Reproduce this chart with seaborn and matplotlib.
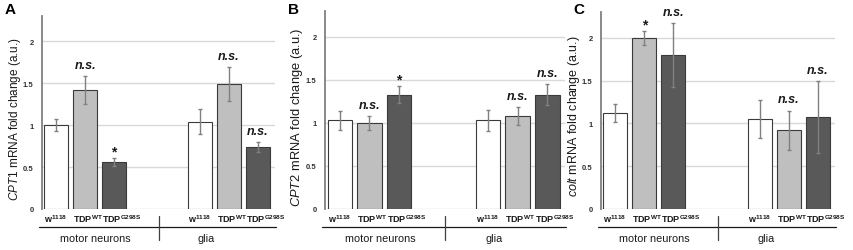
import numpy as np
import pandas as pd
import matplotlib
matplotlib.use("Agg")
import matplotlib.pyplot as plt
import seaborn as sns
from matplotlib.transforms import blended_transform_factory
from matplotlib.lines import Line2D

# ---------------- data ----------------
genotypes = ["w1118", "TDPWT", "TDPG298S"]
genotype_labels = [r"$\mathbf{w^{1118}}$", r"$\mathbf{TDP^{WT}}$", r"$\mathbf{TDP^{G298S}}$"]
regions = ["motor neurons", "glia"]
panel_letters = ["A", "B", "C"]
gene_names = ["CPT1", "CPT2", "colt"]

# order: motor neurons (w1118, TDPWT, TDPG298S), glia (w1118, TDPWT, TDPG298S)
cpt1_mean = [1.00, 1.42, 0.56, 1.04, 1.49, 0.74]
cpt1_err = [0.07, 0.17, 0.05, 0.15, 0.20, 0.06]
cpt1_sig = ["", "n.s.", "*", "", "n.s.", "n.s."]

cpt2_mean = [1.03, 1.00, 1.33, 1.03, 1.08, 1.33]
cpt2_err = [0.11, 0.08, 0.10, 0.12, 0.10, 0.12]
cpt2_sig = ["", "n.s.", "*", "", "n.s.", "n.s."]

colt_mean = [1.12, 2.00, 1.80, 1.05, 0.92, 1.07]
colt_err = [0.11, 0.08, 0.37, 0.22, 0.23, 0.42]
colt_sig = ["", "*", "n.s.", "", "n.s.", "n.s."]

yticks = [0, 0.5, 1, 1.5, 2]
ytick_labels = ["0", "0.5", "1", "1.5", "2"]

panels = [
    (cpt1_mean, cpt1_err, cpt1_sig),
    (cpt2_mean, cpt2_err, cpt2_sig),
    (colt_mean, colt_err, colt_sig),
]

# ---------------- style ----------------
sns.set_theme(style="white")
plt.rcParams["font.family"] = ["Liberation Sans", "DejaVu Sans"]
plt.rcParams["mathtext.fontset"] = "custom"
plt.rcParams["mathtext.rm"] = "Liberation Sans"
plt.rcParams["mathtext.it"] = "Liberation Sans:italic"
plt.rcParams["mathtext.bf"] = "Liberation Sans:bold"

palette = {"w1118": "#ffffff", "TDPWT": "#bfbfbf", "TDPG298S": "#595959"}
edge = "#3a3a3a"
grey_axis = "#808080"
grid_col = "#d9d9d9"
text_col = "#1a1a1a"

W, H = 854, 251
fig = plt.figure(figsize=(W / 100, H / 100), dpi=100)

# axes rectangles in pixels: x0, ytop, x1, ybottom
rects = [(42, 17, 275, 210), (325, 12, 565, 210), (601, 13, 835, 210)]
letter_x = [5, 288, 573]
ylabel_pos = [(15, 119), (297, 117), (574, 116)]
ylabel_size = [8.5, 9.3, 9.0]

def fx(px):
    return px / W

def fy(py):
    return (H - py) / H

for i, (means, errs, sigs) in enumerate(panels):
    x0, yt, x1, yb = rects[i]
    ax = fig.add_axes([fx(x0), fy(yb), fx(x1) - fx(x0), fy(yt) - fy(yb)])

    df = pd.DataFrame({
        "region": [r for r in regions for _ in genotypes],
        "genotype": genotypes * len(regions),
        "value": means,
    })
    err_lookup = {(r, g): e for r, g, e in zip(df["region"], df["genotype"], errs)}
    sig_lookup = {(r, g): s for r, g, s in zip(df["region"], df["genotype"], sigs)}

    for yv in yticks:
        ax.axhline(yv, color=grid_col, lw=1.0, zorder=0)

    sns.barplot(data=df, x="region", y="value", hue="genotype",
                order=regions, hue_order=genotypes, palette=palette,
                width=0.6, gap=0.17, errorbar=None, legend=False,
                edgecolor=edge, linewidth=0.8, ax=ax, zorder=2)

    bar_containers = list(ax.containers)
    lefts, labels = [], []
    for k, cont in enumerate(bar_containers):
        g = genotypes[k]
        for bar in cont:
            cx = bar.get_x() + bar.get_width() / 2
            h = bar.get_height()
            r = regions[int(round(cx))]
            e = err_lookup[(r, g)]
            ax.errorbar(cx, h, yerr=e, fmt="none", ecolor=grey_axis,
                        elinewidth=1.0, capsize=1.6, capthick=1.0, zorder=3)
            s = sig_lookup[(r, g)]
            if s == "*":
                ax.text(cx, h + e + 0.08, "*", ha="center", va="center",
                        fontsize=10, fontweight="bold", color=text_col, clip_on=False)
            elif s:
                ax.text(cx, h + e + 0.13, s, ha="center", va="center",
                        fontsize=9, fontweight="bold", fontstyle="italic",
                        color=text_col, clip_on=False)
            lefts.append(bar.get_x())
            labels.append(genotype_labels[k])

    ax.set_xlim(-0.3, 1.32)
    ax.set_ylim(0, 2.3)
    ax.set_xticks(lefts, labels=labels, fontsize=6.5, color=text_col)
    for lab in ax.get_xticklabels():
        lab.set_ha("left")
    ax.tick_params(axis="x", length=0, pad=2.5)
    ax.set_yticks(yticks, labels=ytick_labels, fontsize=5.5, fontweight="bold", color="#333333")
    ax.tick_params(axis="y", length=0, pad=6)
    ax.set_xlabel("")
    ax.set_ylabel("")
    for side in ["top", "right", "bottom"]:
        ax.spines[side].set_visible(False)
    ax.spines["left"].set_color(grey_axis)
    ax.spines["left"].set_linewidth(1.3)
    ax.grid(False)

    lx, ly = ylabel_pos[i]
    fig.text(fx(lx), fy(ly), r"$\mathit{" + gene_names[i] + r"}$ mRNA fold change (a.u.)",
             rotation=90, ha="center", va="center", fontsize=ylabel_size[i], color=text_col)

    # bottom group bracket
    tr = blended_transform_factory(ax.transData, fig.transFigure)
    ax.add_line(Line2D([-0.32, 1.33], [fy(228), fy(228)], transform=tr,
                       color=text_col, lw=0.9, clip_on=False))
    ax.add_line(Line2D([0.51, 0.51], [fy(217), fy(241)], transform=tr,
                       color="#404040", lw=0.9, clip_on=False))
    ax.text(0.07, fy(239), regions[0], transform=tr, ha="center", va="center",
            fontsize=7.8, color=text_col)
    ax.text(0.84, fy(239), regions[1], transform=tr, ha="center", va="center",
            fontsize=7.8, color=text_col)

    fig.text(fx(letter_x[i]), fy(10), panel_letters[i], ha="left", va="center",
             fontsize=11, fontweight="bold", color="#000000")

fig.savefig("out.png", dpi=100)
